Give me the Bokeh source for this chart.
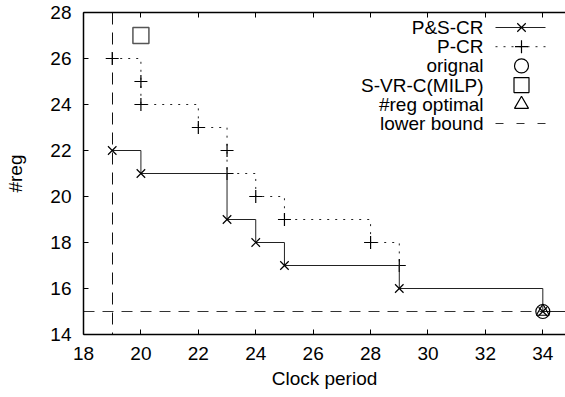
from bokeh.plotting import figure
from bokeh.models import (Range1d, Label, LinearAxis, FixedTicker, CustomJSTickFormatter)
from bokeh.embed import file_html
from bokeh.resources import INLINE

# ---- data ----
ps_x = [19, 20, 23, 24, 25, 29, 34, 36]
ps_y = [22, 21, 19, 18, 17, 16, 15, 15]
pc_x = [19, 20, 20, 22, 23, 23, 24, 25, 28, 29]
pc_y = [26, 25, 24, 23, 22, 21, 20, 19, 18, 17]
orig_x = [34]
orig_y = [15]
milp_x = [20]
milp_y = [27]
opt_x = [34]
opt_y = [15]
lb_y = [15]
lb_x = [19]
x_ticks = [18, 20, 22, 24, 26, 28, 30, 32, 34]
y_ticks = [14, 16, 18, 20, 22, 24, 26, 28]
legend_labels = ["P&S-CR", "P-CR", "orignal", "S-VR-C(MILP)", "#reg optimal", "lower bound"]

FONT = "Liberation Sans"
FS = "19px"

W, H = 565, 397
ML, MR, MT, MB = 83, 0, 12, 63
X0, X1 = 18, 34.79
Y0, Y1 = 14, 28

p = figure(width=W, height=H, output_backend="svg", toolbar_location=None,
           x_range=Range1d(X0, X1), y_range=Range1d(Y0, Y1),
           min_border_left=ML, min_border_right=MR, min_border_top=MT,
           min_border_bottom=MB, x_axis_label="Clock period", y_axis_label="#reg")
p.grid.visible = False
p.outline_line_color = None
p.background_fill_color = "white"
p.border_fill_color = "white"

for ax in (p.xaxis[0], p.yaxis[0]):
    ax.major_tick_in = 5
    ax.major_tick_out = 0
    ax.minor_tick_line_color = None
    ax.axis_line_width = 1.5
    ax.axis_line_color = "black"
    ax.major_tick_line_color = "black"
    ax.major_label_text_font = FONT
    ax.major_label_text_font_size = FS
    ax.major_label_text_color = "black"
    ax.axis_label_text_font = FONT
    ax.axis_label_text_font_size = FS
    ax.axis_label_text_font_style = "normal"
    ax.axis_label_text_color = "black"
p.xaxis[0].ticker = FixedTicker(ticks=x_ticks)
p.yaxis[0].ticker = FixedTicker(ticks=y_ticks)
p.xaxis[0].major_label_standoff = 12
p.xaxis[0].axis_label_standoff = 5
p.yaxis[0].major_label_standoff = 12
p.yaxis[0].axis_label_standoff = 21

top = LinearAxis(ticker=FixedTicker(ticks=x_ticks),
                 formatter=CustomJSTickFormatter(code="return ''"))
top.major_tick_in = 5
top.major_tick_out = 0
top.minor_tick_line_color = None
top.axis_line_width = 1.5
top.major_label_standoff = 0
top.major_label_text_font_size = "0px"
p.add_layout(top, "above")

# lower bound
p.hspan(y=lb_y, line_color="#333333", line_width=1, line_dash="11 8")
p.vspan(x=lb_x, line_color="#111111", line_width=1, line_dash="12 8")

# P-CR
p.step(pc_x, pc_y, mode="after", line_color="#222222", line_width=1, line_dash="2 6")
p.scatter(pc_x, pc_y, marker="cross", size=13, line_color="black", line_width=1.2)

# P&S-CR
p.step(ps_x, ps_y, mode="after", line_color="#222222", line_width=1)
p.scatter(ps_x, ps_y, marker="x", size=12, line_color="black", line_width=1.2)

# others
p.scatter(orig_x, orig_y, marker="circle", size=14, fill_color=None,
          line_color="black", line_width=1.2)
p.scatter(milp_x, milp_y, marker="square", size=16, fill_color=None,
          line_color="#555555", line_width=1.5)
p.scatter(opt_x, opt_y, marker="triangle", size=13, fill_color=None,
          line_color="black", line_width=1.2)

# ---- legend (drawn by hand, glyph to the right of the text) ----
frame_w = W - ML - MR
frame_h = H - MT - MB


def px_to_x(px):
    return X0 + (px - ML) * (X1 - X0) / frame_w


def py_to_y(py):
    return Y1 - (py - MT) * (Y1 - Y0) / frame_h


ROW0, PITCH = 27, 19.2
SAMPLE_L, SAMPLE_R, SAMPLE_C, TEXT_R = 495, 545, 521, 483
xl, xr, xc = px_to_x(SAMPLE_L), px_to_x(SAMPLE_R), px_to_x(SAMPLE_C)
rows = [py_to_y(ROW0 + PITCH * i) for i in range(len(legend_labels))]

p.segment(x0=[xl], y0=[rows[0]], x1=[xr], y1=[rows[0]], line_color="#222222", line_width=1)
p.scatter([xc], [rows[0]], marker="x", size=12, line_color="black", line_width=1.2)
p.segment(x0=[xl], y0=[rows[1]], x1=[xr], y1=[rows[1]], line_color="#222222",
          line_width=1, line_dash="2 6")
p.scatter([xc], [rows[1]], marker="cross", size=13, line_color="black", line_width=1.2)
p.scatter([xc], [rows[2]], marker="circle", size=14, fill_color=None,
          line_color="black", line_width=1.2)
p.scatter([xc], [rows[3]], marker="square", size=15, fill_color=None,
          line_color="black", line_width=1.2)
p.scatter([xc], [rows[4]], marker="triangle", size=14, fill_color=None,
          line_color="black", line_width=1.2)
p.segment(x0=[xl], y0=[rows[5]], x1=[xr], y1=[rows[5]], line_color="#333333",
          line_width=1, line_dash="8 13")

for i, t in enumerate(legend_labels):
    p.add_layout(Label(x=TEXT_R - ML, y=frame_h - (ROW0 + PITCH * i - MT),
                       x_units="screen", y_units="screen",
                       text=t, text_align="right", text_baseline="middle",
                       text_font=FONT, text_font_size=FS, text_color="black"))

open("out.html", "w").write(file_html(p, INLINE))
